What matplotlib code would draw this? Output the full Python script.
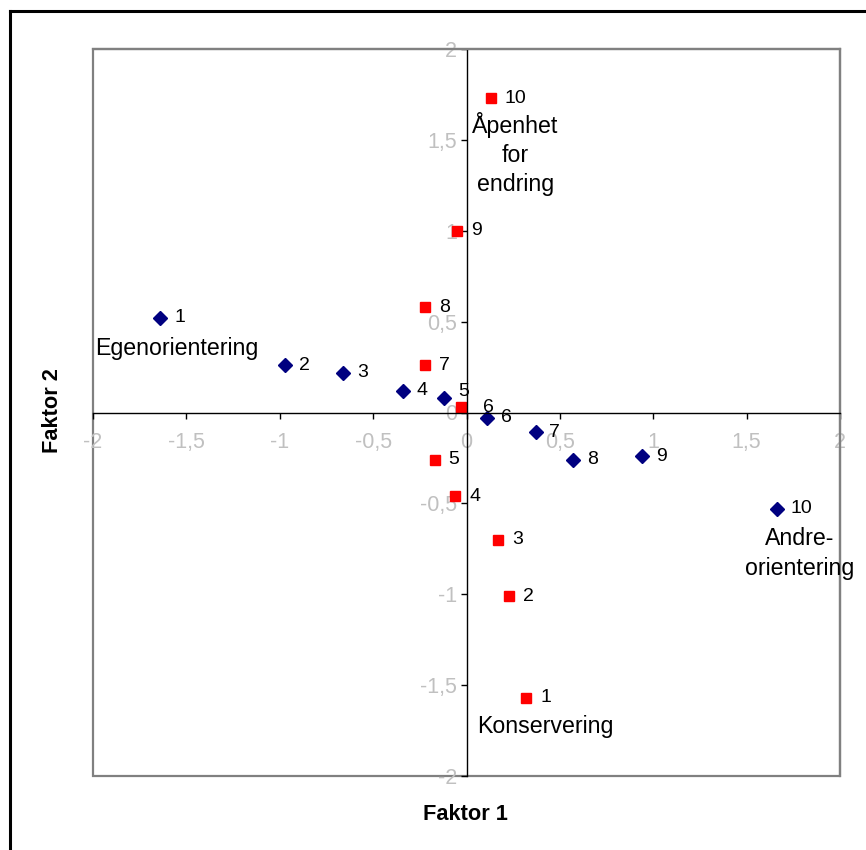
import matplotlib
matplotlib.use('Agg')
import matplotlib.pyplot as plt
from matplotlib.lines import Line2D
from matplotlib.patches import Rectangle

plt.rcParams['font.family'] = ['Liberation Sans', 'DejaVu Sans']

# Faktor 1 / Faktor 2 scores, punkt 1..10
blue_x = [-1.64, -0.97, -0.66, -0.34, -0.12, 0.11, 0.37, 0.57, 0.94, 1.66]
blue_y = [0.52, 0.26, 0.22, 0.12, 0.08, -0.03, -0.11, -0.26, -0.24, -0.53]
red_x = [0.32, 0.23, 0.17, -0.06, -0.17, -0.03, -0.22, -0.22, -0.05, 0.13]
red_y = [-1.57, -1.01, -0.70, -0.46, -0.26, 0.03, 0.26, 0.58, 1.00, 1.73]
point_labels = [str(i) for i in range(1, 11)]

tick_vals = [-2, -1.5, -1, -0.5, 0, 0.5, 1, 1.5, 2]
tick_labels = ['-2', '-1,5', '-1', '-0,5', '0', '0,5', '1', '1,5', '2']

fig = plt.figure(figsize=(8.66, 8.5), dpi=100)
ax = fig.add_axes([93/866, 1-776/850, 747/866, 727/850])

ax.plot(blue_x, blue_y, 'D', color='#000080', markersize=7, linestyle='none', clip_on=False)
ax.plot(red_x, red_y, 's', color='#ff0000', markersize=7.5, linestyle='none', clip_on=False)

for x, y, lab in zip(blue_x, blue_y, point_labels):
    dy = 5 if lab == '5' else 0
    ax.annotate(lab, (x, y), xytext=(10, dy), textcoords='offset points',
                ha='left', va='center', fontsize=14)
for x, y, lab in zip(red_x, red_y, point_labels):
    dx = 16 if lab == '6' else 10
    ax.annotate(lab, (x, y), xytext=(dx, 0), textcoords='offset points',
                ha='left', va='center', fontsize=14)

ax.text(0.262, 1.655, 'Åpenhet\nfor\nendring', ha='center', va='top', fontsize=16.7, linespacing=1.35)
ax.text(-1.55, 0.35, 'Egenorientering', ha='center', va='center', fontsize=16.7)
ax.text(0.42, -1.725, 'Konservering', ha='center', va='center', fontsize=16.7)
ax.text(1.786, -0.775, 'Andre-\norientering', ha='center', va='center', fontsize=16.7, linespacing=1.35)

ax.set_xlim(-2, 2)
ax.set_ylim(-2, 2)
ax.set_xticks(tick_vals)
ax.set_xticklabels(tick_labels)
ax.set_yticks(tick_vals)
ax.set_yticklabels(tick_labels)

ax.spines['left'].set_position('zero')
ax.spines['bottom'].set_position('zero')
for s in ['left', 'bottom']:
    ax.spines[s].set_color('black')
    ax.spines[s].set_linewidth(1)
for s in ['top', 'right']:
    ax.spines[s].set_color('#808080')
    ax.spines[s].set_linewidth(1.6)
ax.add_patch(Rectangle((0, 0), 1, 1, transform=ax.transAxes, fill=False,
                       edgecolor='#808080', linewidth=1.6, clip_on=False, zorder=0))

ax.tick_params(axis='both', direction='out', length=4, width=1, colors='black',
               labelcolor='#c0c0c0', labelsize=15.5)
ax.tick_params(axis='x', pad=10)
ax.tick_params(axis='y', pad=3)

fig.text(465/866, 1-815/850, 'Faktor 1', ha='center', va='center', fontsize=15.7, fontweight='bold')
fig.text(52/866, 1-411/850, 'Faktor 2', ha='center', va='center', fontsize=15.7,
         fontweight='bold', rotation=90)

# outer chart border (runs off the right and bottom edge)
fig.add_artist(Line2D([10/866, 10/866], [0, 1-11/850], color='black', linewidth=2.2))
fig.add_artist(Line2D([10/866, 1], [1-11/850, 1-11/850], color='black', linewidth=2.2))

fig.savefig('out.png', dpi=100)
